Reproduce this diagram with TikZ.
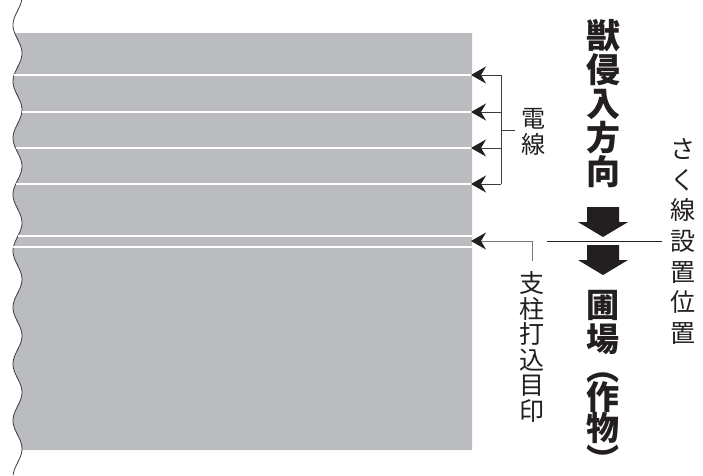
\documentclass[tikz,border=0pt]{standalone}
\usepackage{fontspec}
\newfontfamily\cjk{Noto Sans CJK JP}
\usetikzlibrary{arrows.meta}
\definecolor{fieldgray}{RGB}{187,188,192}
\definecolor{ink}{RGB}{35,31,32}
\definecolor{linegray}{RGB}{60,60,62}
\definecolor{lightline}{RGB}{120,120,122}
\newcommand\vopen{\smash{\rotatebox[origin=c]{-90}{（}}}
\newcommand\vclose{\smash{\rotatebox[origin=c]{-90}{）}}}
\tikzset{
  vlabel/.style={inner sep=0pt, align=center, text=ink},
  wire/.style={draw=white, line width=2pt},
  callout/.style={draw=linegray, line width=0.9pt, -{Stealth[length=15pt,width=17pt,inset=5pt,color=ink,fill=ink]}},
  bracket/.style={draw=linegray, line width=0.9pt},
  blockarrow/.style={fill=ink, draw=none},
}
\begin{document}
\begin{tikzpicture}[x=1pt,y=-1pt]
\useasboundingbox (0,0) rectangle (703,475);
% field with wavy left edge
\fill[fieldgray] plot[domain=33:450, samples=120, variable=\t] ({17.5-4.5*cos(6.3717*(\t-25))}, \t) -- (472,450) -- (472,33) -- cycle;
\draw[linegray, line width=0.8pt] plot[domain=0:475, samples=200, variable=\t] ({17.5-4.5*cos(6.3717*(\t-25))}, \t);
% wires
\foreach \y in {75,112,148,184,236,247} {
  \draw[wire] ({17.5-4.5*cos(6.3717*(\y-25))}, \y) -- (472,\y);
}
% arrow targets
\coordinate (w1) at (471,75);
\coordinate (w2) at (471,112);
\coordinate (w3) at (471,148);
\coordinate (w4) at (471,184);
\coordinate (pm) at (471,241);
\coordinate (b1) at (501,75);
\coordinate (b2) at (501,112);
\coordinate (b3) at (501,148);
\coordinate (b4) at (501,184);
\coordinate (bm) at (501,130);
\coordinate (bt) at (515,130);
\coordinate (pc) at (532,241);
\coordinate (pe) at (532,261);
% wire callouts
\foreach \i in {1,2,3,4} { \draw[callout] (b\i) -- (w\i); }
\draw[bracket] (b1) -- (b4);
\draw[bracket] (bm) -- (bt);
\node[vlabel, font=\cjk\fontsize{24}{25.5}\selectfont] (densen) at (533,132) {電\\線};
% post mark
\draw[callout, draw=lightline] (pe) -- (pc) -- (pm);
\node[vlabel, font=\cjk\fontsize{25}{25.6}\selectfont] (post) at (532,347) {支\\柱\\打\\込\\目\\印};
% fence line
\coordinate (fl) at (547,241);
\coordinate (fr) at (662,241);
\draw[draw=ink, line width=1pt] (fl) -- (fr);
\node[vlabel, font=\cjk\fontsize{25}{30.6}\selectfont] (fence) at (683,241.5) {さ\\く\\線\\設\\置\\位\\置};
% block arrows
\foreach \top in {207,245} {
  \fill[blockarrow] (587,\top) -- (619,\top) -- (619,\top+15) -- (628,\top+15) -- (603,\top+30) -- (578,\top+15) -- (587,\top+15) -- cycle;
}
% titles
\node[vlabel, font=\cjk\bfseries\fontsize{34}{33.8}\selectfont] (intrude) at (603,103.5) {獣\\侵\\入\\方\\向};
\node[vlabel, anchor=north, font=\cjk\bfseries\fontsize{33}{34}\selectfont] (field) at (603,290)
  {圃\\場\\[-5pt]\vopen\\[-4.5pt]作\\[-3pt]物\\[-2pt]\vclose};
\end{tikzpicture}
\end{document}
